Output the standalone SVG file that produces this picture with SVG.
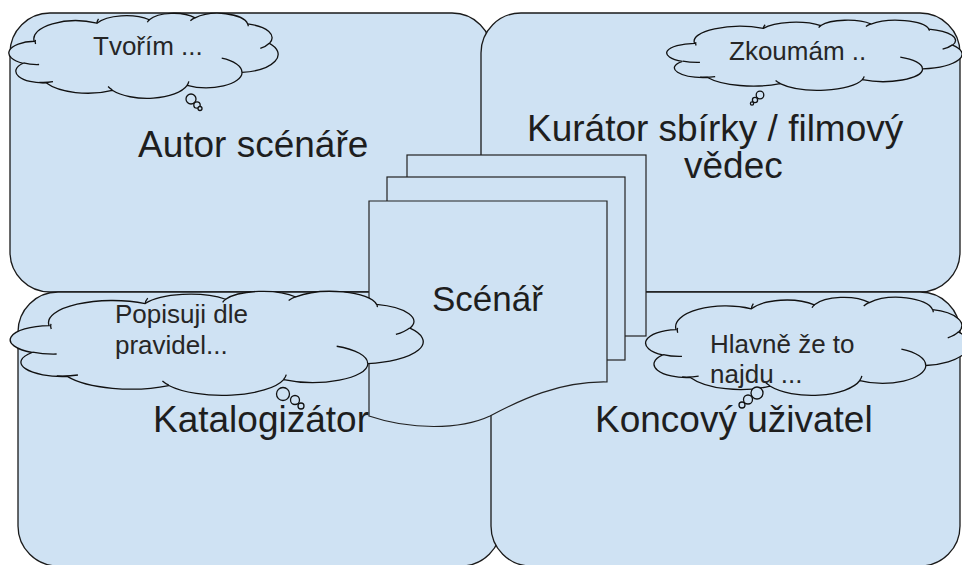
<svg xmlns="http://www.w3.org/2000/svg" xmlns:xlink="http://www.w3.org/1999/xlink" width="962" height="565" viewBox="0 0 962 565">
<style>
.box{fill:#cfe2f3;stroke:#1a1a1a;stroke-width:1.3}
.doc{fill:#cfe2f3;stroke:#222;stroke-width:1.2}
.cl{fill:#cfe2f3;stroke:#111;stroke-width:1.3;vector-effect:non-scaling-stroke}
.cli{fill:none;stroke:#111;stroke-width:1.3;vector-effect:non-scaling-stroke}
.bub{fill:#cfe2f3;stroke:#111;stroke-width:1.3}
.big{font-family:"Liberation Sans",Arial,sans-serif;font-size:37px;fill:#1e1e1e}
.small{font-family:"Liberation Sans",Arial,sans-serif;font-size:26px;fill:#262626}
</style>
<defs>
<g id="cloudShape">
<path class="cl" d="M9.03,33.26 A15.63,21.27 0 0 1 32.42,12.04 A12.34,16.82 0 0 1 51.98,7.94 A10.10,13.76 0 0 1 69.06,5.74 A11.24,15.27 0 0 1 88.70,12.90 A12.34,16.84 0 0 1 96.81,35.78 A15.68,21.34 0 0 1 86.59,69.91 A13.39,18.21 0 0 1 66.10,85.21 A15.63,21.33 0 0 1 38.15,90.89 A17.87,24.41 0 0 1 13.44,82.10 A10.09,13.70 0 0 1 4.89,59.14 A10.06,13.76 0 0 1 9.03,33.26 Z"/>
<path class="cli" d="M10.86,60.59 A10.06,13.76 0 0 1 5.00,58.75 M16.04,80.78 A10.09,13.70 0 0 1 10.91,81.63 M38.14,90.49 A15.63,21.33 0 0 1 36.60,86.46 M66.73,80.44 A15.63,21.33 0 0 1 66.11,84.86 M79.00,53.13 A13.39,18.21 0 0 1 86.53,69.65 M96.75,35.54 A12.34,16.84 0 0 1 93.40,41.74 M88.71,12.56 A11.24,15.27 0 0 1 88.89,15.49 M67.31,9.15 A11.24,15.27 0 0 1 69.03,5.42 M51.25,10.93 A10.10,13.76 0 0 1 52.08,7.71 M32.41,12.02 A15.63,21.27 0 0 1 33.03,6.78 M9.55,36.55 A15.63,21.27 0 0 1 9.49,31.58"/>
</g>
</defs>

<g id="box-autor">
<rect class="box" x="10" y="13" width="482" height="279" rx="40" ry="40"/>
</g>
<g id="box-kurator">
<rect class="box" x="481" y="13" width="479" height="279" rx="40" ry="40"/>
</g>
<g id="box-katalogizator">
<rect class="box" x="18" y="292" width="483" height="274" rx="40" ry="40"/>
</g>
<g id="box-uzivatel">
<rect class="box" x="491" y="292" width="469" height="274" rx="40" ry="40"/>
</g>

<g id="scenar">
<rect class="doc" x="407" y="155" width="239" height="181"/>
<rect class="doc" x="387" y="177" width="238" height="183"/>
<path class="doc" d="M369,201 H607 V382 C560,381 520,400 490,416 C460,430 410,430 369,416 Z"/>
<text class="big" x="432" y="311" style="font-size:35px">Scénář</text>
</g>

<g id="label-autor"><text class="big" x="138" y="157">Autor scénáře</text></g>
<g id="label-kurator">
<text class="big" x="527" y="141">Kurátor sbírky / filmový</text>
<text class="big" x="684" y="178">vědec</text>
</g>
<g id="label-katalogizator"><text class="big" x="153" y="432">Katalogizátor</text></g>
<g id="label-uzivatel"><text class="big" x="595" y="432">Koncový uživatel</text></g>

<g id="cloud-tvorim">
<use xlink:href="#cloudShape" href="#cloudShape" transform="translate(10,13) scale(2.68,0.85)"/>
<circle class="bub" cx="191" cy="99" r="5"/>
<circle class="bub" cx="197" cy="105" r="3.2"/>
<circle class="bub" cx="200" cy="108.5" r="2"/>
<text class="small" x="93" y="55">Tvořím ...</text>
</g>
<g id="cloud-zkoumam">
<use xlink:href="#cloudShape" href="#cloudShape" transform="translate(668,20) scale(2.94,0.70)"/>
<circle class="bub" cx="760" cy="95" r="3.8"/>
<circle class="bub" cx="755" cy="100" r="2.6"/>
<circle class="bub" cx="752" cy="103.5" r="1.6"/>
<text class="small" x="729" y="60">Zkoumám ..</text>
</g>
<g id="cloud-popisuji">
<use xlink:href="#cloudShape" href="#cloudShape" transform="translate(12,291) scale(4.11,1.04)"/>
<circle class="bub" cx="283" cy="394" r="6.5"/>
<circle class="bub" cx="295" cy="400" r="4.5"/>
<circle class="bub" cx="301" cy="406" r="3"/>
<text class="small" x="115" y="323">Popisuji dle</text>
<text class="small" x="115" y="354">pravidel...</text>
</g>
<g id="cloud-hlavne">
<use xlink:href="#cloudShape" href="#cloudShape" transform="translate(647,297) scale(3.22,0.98)"/>
<circle class="bub" cx="757" cy="393" r="6"/>
<circle class="bub" cx="748" cy="399.5" r="4.5"/>
<circle class="bub" cx="742" cy="405" r="3"/>
<text class="small" x="710" y="353">Hlavně že to</text>
<text class="small" x="710" y="383">najdu ...</text>
</g>
<g id="connectors"/>
</svg>
